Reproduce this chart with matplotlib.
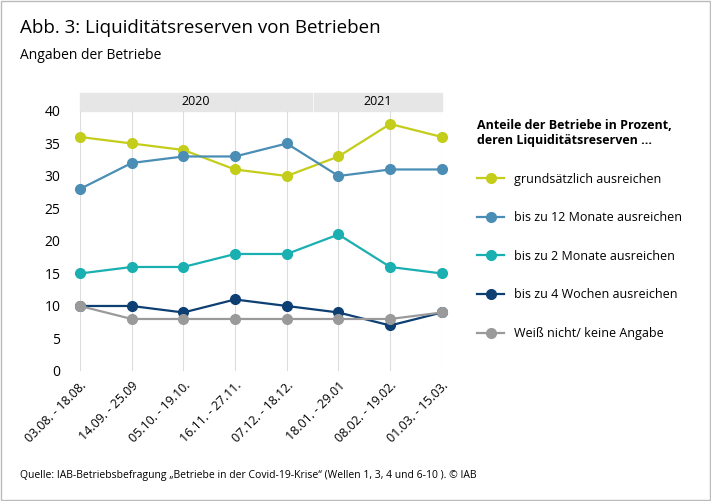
import matplotlib
matplotlib.use("Agg")
import matplotlib.pyplot as plt
from matplotlib.patches import Rectangle
from matplotlib.lines import Line2D

plt.rcParams['font.family'] = ['Open Sans', 'DejaVu Sans']

periods = ["03.08. - 18.08.", "14.09. - 25.09", "05.10. - 19.10.", "16.11. - 27.11.",
           "07.12. - 18.12.", "18.01. - 29.01", "08.02. - 19.02.", "01.03. - 15.03."]
s_grund = [36, 35, 34, 31, 30, 33, 38, 36]
s_12m = [28, 32, 33, 33, 35, 30, 31, 31]
s_2m = [15, 16, 16, 18, 18, 21, 16, 15]
s_4w = [10, 10, 9, 11, 10, 9, 7, 9]
s_wn = [10, 8, 8, 8, 8, 8, 8, 9]
names = ["grundsätzlich ausreichen", "bis zu 12 Monate ausreichen", "bis zu 2 Monate ausreichen",
         "bis zu 4 Wochen ausreichen", "Weiß nicht/ keine Angabe"]
colors = ["#c3cd1a", "#4a8db5", "#1aafb0", "#0d3f73", "#9a9a9a"]
series = [s_grund, s_12m, s_2m, s_4w, s_wn]

fig = plt.figure(figsize=(7.11, 5.01), dpi=100)
fig.patches.append(Rectangle((0.002, 0.002), 0.996, 0.996, transform=fig.transFigure,
                             fill=False, edgecolor="#bbbbbb", lw=1))
fig.text(0.028, 0.945, "Abb. 3: Liquiditätsreserven von Betrieben", fontsize=13.5, va="center")
fig.text(0.028, 0.89, "Angaben der Betriebe", fontsize=10, va="center")
fig.text(0.028, 0.05, "Quelle: IAB-Betriebsbefragung „Betriebe in der Covid-19-Krise“ (Wellen 1, 3, 4 und 6-10 ). © IAB",
         fontsize=7.5, va="center")

ax = fig.add_axes([0.1125, 0.2595, 0.509, 0.519])
x = list(range(len(periods)))
for s, c in zip(series, colors):
    ax.plot(x, s, color=c, lw=1.6, marker="o", ms=7, clip_on=False, zorder=3)
ax.set_xlim(0, 7)
ax.set_ylim(0, 40)
ax.set_yticks(range(0, 41, 5))
ax.set_xticks(x)
ax.set_xticklabels(periods, rotation=45, ha="right", rotation_mode="anchor", fontsize=9)
ax.tick_params(axis="y", labelsize=10, length=0, pad=14)
ax.tick_params(axis="x", length=0, pad=6)
ax.grid(axis="x", color="#dddddd", lw=0.8)
for sp in ax.spines.values():
    sp.set_visible(False)

# year bands
for x0, x1, lab in [(0, 4.48, "2020"), (4.52, 7, "2021")]:
    ax.add_patch(Rectangle((x0, 1.0), x1 - x0, 0.07,
                           transform=ax.get_xaxis_transform(), color="#e6e6e6", clip_on=False))
    ax.text((x0 + x1) / 2, 1.035, lab, transform=ax.get_xaxis_transform(), ha="center", va="center", fontsize=9)

handles = [Line2D([0], [0], color=c, lw=1.6, marker="o", ms=7) for c in colors]
fig.legend(handles, names, loc="upper left", bbox_to_anchor=(0.655, 0.785), frameon=False,
           fontsize=9, handlelength=2.2, labelspacing=2.05,
           title="Anteile der Betriebe in Prozent,\nderen Liquiditätsreserven ...",
           title_fontproperties={"weight": "bold", "size": 9})
fig.legends[0]._legend_box.align = "left"
fig.savefig("out.png", dpi=100)
